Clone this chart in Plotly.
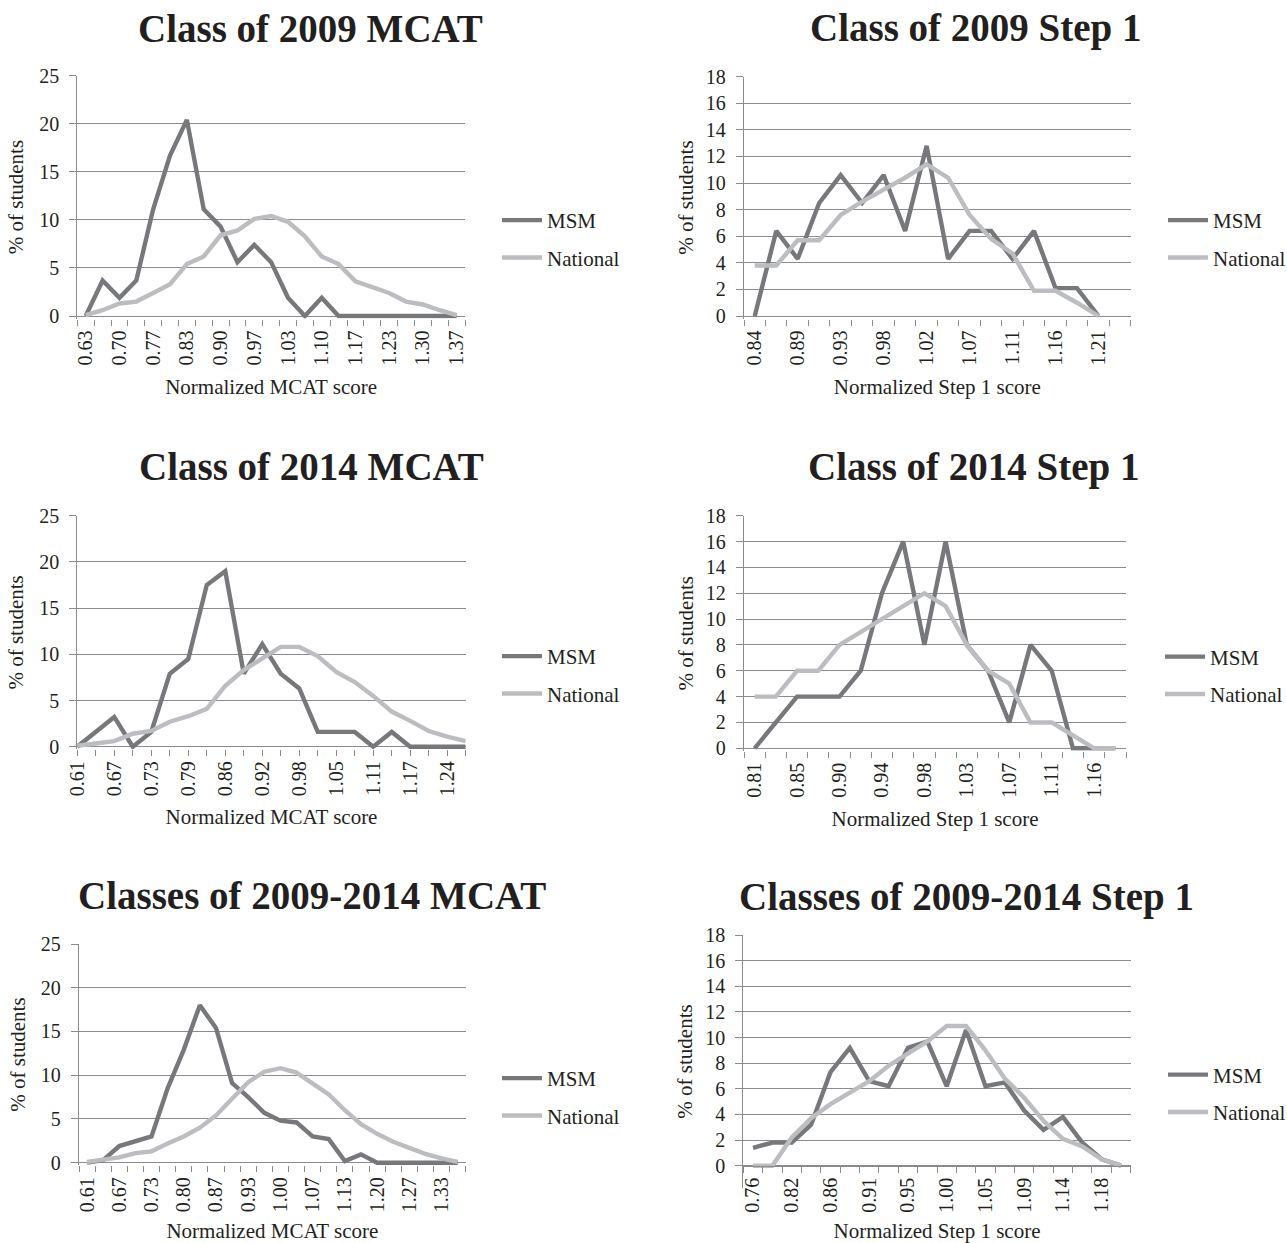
import plotly.graph_objects as go

# ---------------- data ----------------
cats_2009_mcat = ["0.63", "0.67", "0.70", "0.73", "0.77", "0.80", "0.83", "0.87", "0.90", "0.93", "0.97", "1.00",
                  "1.03", "1.07", "1.10", "1.13", "1.17", "1.20", "1.23", "1.27", "1.30", "1.33", "1.37"]
msm_2009_mcat = [0, 3.7, 1.9, 3.7, 11.1, 16.7, 20.4, 11.1, 9.3, 5.6, 7.4, 5.6,
                 1.9, 0, 1.9, 0, 0, 0, 0, 0, 0, 0, 0]
nat_2009_mcat = [0.1, 0.6, 1.3, 1.5, 2.4, 3.3, 5.4, 6.2, 8.4, 8.9, 10.1, 10.4,
                 9.8, 8.3, 6.2, 5.4, 3.6, 3.0, 2.4, 1.5, 1.2, 0.6, 0.1]

cats_2009_step1 = ["0.84", "0.86", "0.89", "0.91", "0.93", "0.96", "0.98", "1.00", "1.02", "1.05", "1.07", "1.09",
                   "1.11", "1.14", "1.16", "1.18", "1.21", "1.23"]
msm_2009_step1 = [0, 6.4, 4.3, 8.5, 10.6, 8.5, 10.6, 6.4, 12.8, 4.3, 6.4, 6.4,
                  4.3, 6.4, 2.1, 2.1, 0, None]
nat_2009_step1 = [3.8, 3.8, 5.7, 5.7, 7.6, 8.6, 9.5, 10.4, 11.4, 10.4, 7.6, 5.8,
                  4.7, 1.9, 1.9, 1.0, 0, None]

cats_2014_mcat = ["0.61", "0.64", "0.67", "0.70", "0.73", "0.76", "0.79", "0.83", "0.86", "0.89", "0.92", "0.95",
                  "0.98", "1.02", "1.05", "1.08", "1.11", "1.14", "1.17", "1.21", "1.24", "1.27"]
msm_2014_mcat = [0, 1.6, 3.2, 0, 1.6, 7.9, 9.5, 17.5, 19.0, 7.9, 11.1, 7.9,
                 6.3, 1.6, 1.6, 1.6, 0, 1.6, 0, 0, 0, 0]
nat_2014_mcat = [0.1, 0.3, 0.6, 1.4, 1.7, 2.7, 3.3, 4.1, 6.6, 8.3, 9.6, 10.8,
                 10.8, 9.8, 8.1, 7.0, 5.5, 3.8, 2.8, 1.7, 1.1, 0.6]

cats_2014_step1 = ["0.81", "0.83", "0.85", "0.88", "0.90", "0.92", "0.94", "0.96", "0.98", "1.01", "1.03", "1.05",
                   "1.07", "1.09", "1.11", "1.14", "1.16", "1.18"]
msm_2014_step1 = [0, 2, 4, 4, 4, 6, 12, 16, 8, 16, 8, 6,
                  2, 8, 6, 0, 0, 0]
nat_2014_step1 = [4, 4, 6, 6, 8, 9, 10, 11, 12, 11, 8, 6,
                  5, 2, 2, 1, 0, 0]

cats_all_mcat = ["0.61", "0.64", "0.67", "0.70", "0.73", "0.77", "0.80", "0.84", "0.87", "0.90", "0.93", "0.97",
                 "1.00", "1.03", "1.07", "1.10", "1.13", "1.17", "1.20", "1.23", "1.27", "1.30", "1.33", "1.36"]
msm_all_mcat = [0, 0.3, 1.9, 2.4, 3.0, 8.5, 12.9, 18.0, 15.4, 9.1, 7.5, 5.7,
                4.8, 4.6, 3.0, 2.7, 0.2, 0.95, 0, 0, 0, 0, 0, 0]
nat_all_mcat = [0.1, 0.3, 0.6, 1.1, 1.3, 2.2, 3.0, 4.0, 5.4, 7.3, 9.2, 10.4,
                10.8, 10.3, 9.1, 7.8, 6.0, 4.4, 3.3, 2.4, 1.7, 1.0, 0.5, 0.1]

cats_all_step1 = ["0.76", "0.79", "0.82", "0.84", "0.86", "0.89", "0.91", "0.93", "0.95", "0.98", "1.00", "1.02",
                  "1.05", "1.07", "1.09", "1.11", "1.14", "1.16", "1.18", "1.20"]
msm_all_step1 = [1.4, 1.8, 1.8, 3.2, 7.3, 9.2, 6.6, 6.2, 9.2, 9.7, 6.2, 10.6,
                 6.2, 6.5, 4.3, 2.8, 3.8, 1.8, 0.5, 0]
nat_all_step1 = [0, 0, 2.2, 3.7, 4.8, 5.7, 6.6, 7.8, 8.8, 9.7, 10.9, 10.9,
                 9.0, 6.8, 5.3, 3.5, 2.1, 1.5, 0.5, 0]

series_names = ["MSM", "National"]
titles = ["Class of 2009 MCAT", "Class of 2009 Step 1",
          "Class of 2014 MCAT", "Class of 2014 Step 1",
          "Classes of 2009-2014 MCAT", "Classes of 2009-2014 Step 1"]
x_titles = ["Normalized MCAT score", "Normalized Step 1 score"] * 3
y_title = "% of students"

# ---------------- style ----------------
W, H = 1287, 1243
FONT = "Liberation Serif"
TXT = "#231f20"
GRID = "#8b8b8b"
MSM_C = "#77787b"
NAT_C = "#bcbdc0"

# layout per panel: (x_left_px, x_right_px, y_top_px, y_zero_px, y_bottom_px, on_ticks,
#                    title_cx, title_cy, legend_x_px, legend_cy_px, ytitle_standoff)
geo = [
    (77.3, 465.0, 75.7, 316.0, None, False, 310, 28, 497, 239, 9),
    (744.0, 1130.7, 76.7, 316.0, None, False, 976, 28, 1163, 239, 6),
    (77.3, 465.7, 515.7, 746.7, None, True, 311, 467, 497, 675, 9),
    (744.0, 1126.0, 515.7, 748.3, None, False, 974, 467, 1160, 675.5, 6),
    (79.0, 465.7, 944.0, 1162.7, None, False, 312, 895, 497, 1097, 9),
    (743.3, 1130.7, 935.0, 1165.7, 1188.0, False, 966, 897, 1163, 1093.5, 6),
]
data = [
    (cats_2009_mcat, msm_2009_mcat, nat_2009_mcat, 25, 5),
    (cats_2009_step1, msm_2009_step1, nat_2009_step1, 18, 2),
    (cats_2014_mcat, msm_2014_mcat, nat_2014_mcat, 25, 5),
    (cats_2014_step1, msm_2014_step1, nat_2014_step1, 18, 2),
    (cats_all_mcat, msm_all_mcat, nat_all_mcat, 25, 5),
    (cats_all_step1, msm_all_step1, nat_all_step1, 18, 2),
]

fig = go.Figure()
annotations = []
layout = dict(
    width=W, height=H,
    margin=dict(l=0, r=0, t=0, b=0, autoexpand=False),
    paper_bgcolor="white", plot_bgcolor="white",
    font=dict(family=FONT, color=TXT, size=20),
)


def py(px):
    return 1 - px / H


def pxx(px):
    return px / W


for i in range(6):
    cats, msm, nat, ymax, ydt = data[i]
    xl, xr, yt, y0, yb, on_ticks, tcx, tcy, lgx, lgy, ystand = geo[i]
    n = len(cats)
    idx = list(range(n))
    sfx = "" if i == 0 else str(i + 1)
    xa, ya = "x" + sfx, "y" + sfx
    lg = "legend" + sfx

    px_per_unit = (y0 - yt) / ymax
    if yb is None:
        pad_px = 2.5
        yb_px = y0 + pad_px
    else:
        yb_px = yb
    ymin = -(yb_px - y0) / px_per_unit

    for name, vals, col in ((series_names[0], msm, MSM_C), (series_names[1], nat, NAT_C)):
        fig.add_trace(go.Scatter(
            x=idx, y=vals, mode="lines", name=name,
            line=dict(color=col, width=4.4),
            xaxis=xa, yaxis=ya, legend=lg, legendgroup=f"{name}{i}",
            connectgaps=False, hoverinfo="skip",
        ))

    if on_ticks:
        xrange = [0, n - 1]
        mtick0 = 0
    else:
        xrange = [-0.5, n - 0.5]
        mtick0 = -0.5

    xaxis = dict(
        domain=[pxx(xl), pxx(xr)],
        range=xrange,
        automargin=False,
        tickmode="array",
        tickvals=idx[::2],
        ticktext=cats[::2],
        tickangle=-90,
        ticks="outside", ticklen=3, tickcolor="rgba(0,0,0,0)",
        tickfont=dict(family=FONT, size=20, color=TXT),
        showgrid=False, zeroline=False,
        showline=False,
        minor=dict(ticks="outside", tickmode="linear", tick0=mtick0, dtick=1,
                   ticklen=6, tickcolor=GRID, tickwidth=1.3, showgrid=False),
        title=dict(text=x_titles[i], font=dict(family=FONT, size=21, color=TXT), standoff=14),
        fixedrange=True,
    )
    if yb is None:
        xaxis["anchor"] = ya
    else:
        xaxis["anchor"] = "free"
        xaxis["position"] = py(y0)
        xaxis["showline"] = True
        xaxis["linecolor"] = GRID
        xaxis["linewidth"] = 1.3

    yaxis = dict(
        domain=[py(yb_px), py(yt)],
        range=[ymin, ymax],
        automargin=False,
        tick0=0, dtick=ydt,
        ticks="outside", ticklen=7, tickcolor=GRID, tickwidth=1.3,
        ticklabelstandoff=6,
        tickfont=dict(family=FONT, size=20, color=TXT),
        showgrid=True, gridcolor=GRID, gridwidth=1.3,
        zeroline=False,
        showline=True, linecolor=GRID, linewidth=1.3,
        anchor=xa,
        title=dict(text=y_title, font=dict(family=FONT, size=21, color=TXT), standoff=ystand),
        fixedrange=True,
    )
    layout["xaxis" + sfx] = xaxis
    layout["yaxis" + sfx] = yaxis

    layout[lg] = dict(
        x=pxx(lgx), y=py(lgy), xanchor="left", yanchor="middle",
        bgcolor="rgba(0,0,0,0)", borderwidth=0,
        font=dict(family=FONT, size=21, color=TXT),
        tracegroupgap=7, itemwidth=40, traceorder="grouped",
    )

    annotations.append(dict(
        text="<b>" + titles[i] + "</b>", x=pxx(tcx), y=py(tcy), xref="paper", yref="paper",
        xanchor="center", yanchor="middle", showarrow=False,
        font=dict(family=FONT, size=39, color=TXT),
    ))

layout["annotations"] = annotations
fig.update_layout(**layout)

fig.write_html("out.html", config={"displayModeBar": False},
               post_script="document.body.style.margin='0';")
